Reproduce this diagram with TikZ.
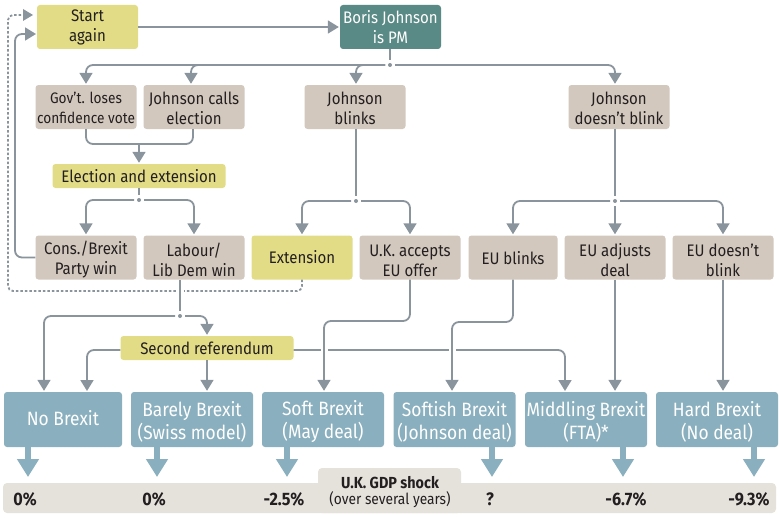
\documentclass[tikz,border=0pt]{standalone}
\usepackage{fontspec}
\setmainfont[FakeStretch=0.9]{Fira Sans}
\usetikzlibrary{arrows.meta}

\definecolor{tanfill}{HTML}{D2C8BE}
\definecolor{yellowfill}{HTML}{E3DC87}
\definecolor{tealfill}{HTML}{5A8A86}
\definecolor{bluefill}{HTML}{8AAFBE}
\definecolor{linegrey}{HTML}{8A949C}
\definecolor{bandfill}{HTML}{E5E2DC}
\definecolor{inktext}{HTML}{231F20}

% taller first line, pushes a label down in its box
\newcommand{\dropline}[1]{\rule{0pt}{#1pt}}

\begin{document}
\begin{tikzpicture}[x=1pt,y=-1pt,
    box/.style={rounded corners=3pt,inner sep=0pt,align=center,text=inktext,font=\fontsize{16.7}{20}\selectfont},
    tanbox/.style={box,fill=tanfill,minimum width=101pt,minimum height=44pt},
    yellowbox/.style={box,fill=yellowfill,minimum width=101pt,minimum height=44pt},
    yellowbar/.style={box,fill=yellowfill,minimum width=173pt,minimum height=24pt},
    outcome/.style={box,fill=bluefill,text=white,minimum width=122pt,minimum height=55pt,font=\fontsize{19.3}{23}\selectfont},
    jdot/.style={circle,fill=linegrey,inner sep=0pt,minimum size=4pt,outer sep=3pt},
    link/.style={draw=linegrey,line width=1.8pt,rounded corners=7pt,-{Triangle[width=13pt,length=11pt]},shorten >=1pt},
    plainlink/.style={draw=linegrey,line width=1.8pt,rounded corners=7pt},
    halo/.style={draw=white,line width=7pt},
    dottedlink/.style={draw=linegrey,line width=1.8pt,dash pattern=on 2.5pt off 2pt,rounded corners=5pt},
    fatarrow/.style={draw=bluefill,line width=6pt,-{Triangle[width=21pt,length=18pt]}},
    gdpvalue/.style={font=\fontsize{18}{20}\bfseries\selectfont,text=inktext,inner sep=0pt}]
    \useasboundingbox (0,0) rectangle (779,519);

    % GDP band along the bottom
    \fill[bandfill,rounded corners=4pt] (3,483) rectangle (776,513);
    \fill[bandfill,rounded corners=4pt] (318,468) rectangle (461,513);

    % Top row
    \node[yellowbox] (start) at (87.5,27) {Start\\again};
    \node[box,fill=tealfill,text=white,minimum width=101pt,minimum height=44pt] (pm) at (390.5,27) {Boris Johnson\\is PM};

    % Second row
    \node[tanbox,font=\fontsize{15.2}{20}\selectfont] (gov) at (86,107) {\dropline{14}Gov’t. loses\\confidence vote};
    \node[tanbox] (calls) at (194,107) {\dropline{15}Johnson calls\\election};
    \node[tanbox] (blinks) at (355,107) {\dropline{15}Johnson\\blinks};
    \node[tanbox] (noblink) at (619,107) {\dropline{15}Johnson\\doesn’t blink};
    \node[yellowbar] (elect) at (139,176) {Election and extension};

    % Third row
    \node[tanbox] (cons) at (86,257.5) {\dropline{17.5}Cons./Brexit\\Party win};
    \node[tanbox] (labour) at (194,257.5) {\dropline{17.5}Labour/\\Lib Dem win};
    \node[yellowbox] (ext) at (302,257.5) {Extension};
    \node[tanbox] (accepts) at (410,257.5) {\dropline{17.5}U.K. accepts\\EU offer};
    \node[tanbox,minimum width=89pt] (eublinks) at (513,257.5) {\dropline{15}EU blinks};
    \node[tanbox] (adjusts) at (615,257.5) {\dropline{17.5}EU adjusts\\deal};
    \node[tanbox] (eunoblink) at (723,257.5) {\dropline{17.5}EU doesn’t\\blink};
    \node[yellowbar] (second) at (207,348) {Second referendum};

    % Outcomes
    \node[outcome,minimum width=118pt,text depth=4pt] (none) at (63,419.5) {No Brexit};
    \node[outcome] (barely) at (192,419.5) {\dropline{19}Barely Brexit\\(Swiss model)};
    \node[outcome] (soft) at (323,419.5) {\dropline{19}Soft Brexit\\(May deal)};
    \node[outcome] (softish) at (454.5,419.5) {\dropline{19}Softish Brexit\\(Johnson deal)};
    \node[outcome] (middling) at (586,419.5) {\dropline{19}Middling Brexit\\(FTA)*};
    \node[outcome] (hard) at (717,419.5) {\dropline{19}Hard Brexit\\(No deal)};

    % Junction dots
    \node[jdot] (jpm) at (390,65) {};
    \node[jdot] (jelect) at (139,200) {};
    \node[jdot] (jblinks) at (356,201) {};
    \node[jdot] (jnoblink) at (615,201) {};
    \node[jdot] (jlabour) at (180,316) {};

    % Start again and the loops back to it
    \draw[link] (start.east) -- (pm.west);
    \coordinate (loopin) at (37,34);
    \draw[dottedlink] (ext.south) -- (302,291) -- (8,291) -- (8,15) -- (26,15);
    \fill[linegrey] (23,9) -- (33,15) -- (23,21) -- cycle;
    \draw[link] (cons.west) -| (15,34) -- (loopin);

    % From Boris Johnson
    \draw[plainlink] (pm.south -| jpm) -- (jpm.north);
    \draw[link] (jpm) -| (gov.north);
    \draw[link] (jpm) -| ([xshift=-3pt]calls.north);
    \draw[link] (jpm) -| ([xshift=1pt]blinks.north);
    \draw[link] (jpm) -| ([xshift=-4pt]noblink.north);

    % Election branch
    \draw[plainlink] (gov.south) |- (139,144) -| ([xshift=-1pt]calls.south);
    \draw[link] (139,144) -- (elect.north);
    \draw[plainlink] (elect.south) -- (jelect.north);
    \draw[link] (jelect) -| (cons.north);
    \draw[link] (jelect) -| (labour.north);

    % Johnson blinks branch
    \draw[plainlink] (blinks.south -| jblinks) -- (jblinks.north);
    \draw[link] (jblinks) -| (ext.north);
    \draw[link] (jblinks) -| (accepts.north);

    % Johnson doesn't blink branch
    \draw[plainlink] (noblink.south -| jnoblink) -- (jnoblink.north);
    \draw[link] (jnoblink) -| (eublinks.north);
    \draw[link] (jnoblink.south) -- (adjusts.north);
    \draw[link] (jnoblink) -| (eunoblink.north);

    % Labour branch, with a gap in the dotted line
    \draw[halo] (labour.south -| jlabour) -- (180,300);
    \draw[plainlink] (labour.south -| jlabour) -- (jlabour.north);
    \draw[link] (jlabour) -| (none.north -| 44,0);
    \draw[link] (jlabour) -| (second.north);

    % Second referendum
    \draw[link] (second.west |- 0,350) -| (87,392);
    \draw[link] (second.south) -- (barely.north -| second);
    \draw[link] (second.east |- 0,350) -| (565,392);

    % Crossing lines, each cutting a gap in the referendum line
    \draw[halo] (324,340) -- (324,360);
    \draw[link] (accepts.south) |- (324,321) -- (soft.north -| 324,0);
    \draw[halo] (452,340) -- (452,360);
    \draw[link] (eublinks.south) |- (452,322) -- (softish.north -| 452,0);
    \draw[link] (adjusts.south) -- (middling.north -| adjusts);
    \draw[link] (eunoblink.south) -- (hard.north -| eunoblink);

    % Fat arrows down to the GDP band
    \coordinate (tipnone) at (28,477);
    \coordinate (tipbarely) at (157,477);
    \coordinate (tipsoft) at (287,477);
    \coordinate (tipsoftish) at (492,477);
    \coordinate (tipmiddling) at (623,477);
    \coordinate (tiphard) at (754,477);
    \draw[fatarrow] (none.south -| tipnone) -- (tipnone);
    \draw[fatarrow] (barely.south -| tipbarely) -- (tipbarely);
    \draw[fatarrow] (soft.south -| tipsoft) -- (tipsoft);
    \draw[fatarrow] (softish.south -| tipsoftish) -- (tipsoftish);
    \draw[fatarrow] (middling.south -| tipmiddling) -- (tipmiddling);
    \draw[fatarrow] (hard.south -| tiphard) -- (tiphard);

    % GDP labels
    \node[gdpvalue] (gdpnone) at (25,499) {0\%};
    \node[gdpvalue] (gdpbarely) at (154,499) {0\%};
    \node[gdpvalue] (gdpsoft) at (284,499) {-2.5\%};
    \node[gdpvalue] (gdpsoftish) at (490,499) {?};
    \node[gdpvalue] (gdpmiddling) at (626,499) {-6.7\%};
    \node[gdpvalue] (gdphard) at (749,499) {-9.3\%};
    \node[gdpvalue,align=center,font=\fontsize{15.3}{16}\selectfont] (gdptitle) at (390,492) {{\fontsize{16}{16}\bfseries\selectfont U.K. GDP shock}\\(over several years)};
\end{tikzpicture}
\end{document}
